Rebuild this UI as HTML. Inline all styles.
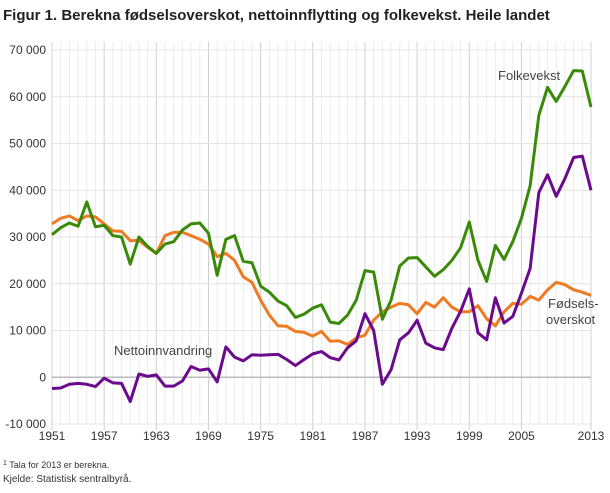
<!DOCTYPE html>
<html><head><meta charset="utf-8"><style>
body{margin:0;background:#fff;font-family:"Liberation Sans",sans-serif;}
</style></head><body>
<svg width="610" height="488" viewBox="0 0 610 488" xmlns="http://www.w3.org/2000/svg">
<text x="3" y="20" font-size="15" font-weight="bold" fill="#222">Figur 1.  Berekna fødselsoverskot, nettoinnflytting og folkevekst. Heile landet</text>
<g id="grid"></g><g id="axes"></g><g id="series"></g>
<text x="498" y="80" font-size="13" fill="#444">Folkevekst</text>
<text x="548" y="308" font-size="13" fill="#444">Fødsels-</text>
<text x="546" y="324" font-size="13" fill="#444">overskot</text>
<text x="114" y="355" font-size="13" fill="#444">Nettoinnvandring</text>
<text x="3" y="468" font-size="9" fill="#333"><tspan font-size="7" dy="-3">1</tspan><tspan dy="3">  Tala for 2013 er berekna.</tspan></text>
<text x="3" y="482" font-size="10" fill="#333">Kjelde: Statistisk sentralbyrå.</text>
</svg>
<script>
const years=[];for(let y=1951;y<=2013;y++)years.push(y);
const yTicks=[-10000,0,10000,20000,30000,40000,50000,60000,70000];
const xTickYears=[1951,1957,1963,1969,1975,1981,1987,1993,1999,2005,2013];
const folkevekst=[30500,32000,33000,32300,37500,32200,32500,30300,30000,24200,30000,28000,26500,28500,29000,31500,32800,33000,30800,21800,29500,30300,24800,24500,19500,18200,16300,15300,12800,13500,14800,15500,11800,11500,13300,16500,22800,22500,12400,16500,23800,25500,25600,23600,21600,23000,25000,27700,33200,25000,20500,28200,25200,29000,34000,41000,56000,62000,59000,62200,65600,65500,57800];
const fodselsoverskot=[32800,34000,34500,33500,34500,34300,32800,31300,31200,29200,29300,27800,26500,30300,31000,31000,30300,29500,28500,25800,26500,25000,21500,20300,16500,13300,11000,10900,9800,9600,8800,9800,7700,7800,7000,8400,9000,12200,14000,15000,15800,15500,13600,16000,15000,17000,15000,14000,14000,15300,12500,11000,14000,15800,15600,17300,16500,18700,20300,19800,18700,18200,17500];
const nettoinnvandring=[-2400,-2300,-1500,-1300,-1500,-2000,-200,-1200,-1300,-5200,700,200,500,-1900,-1900,-800,2300,1500,1800,-1000,6500,4300,3500,4800,4700,4800,4900,3800,2500,3800,5000,5500,4200,3700,6300,7800,13600,10000,-1500,1600,8000,9500,12200,7300,6300,5900,10500,14100,18900,9500,8000,17000,11600,13000,18000,23300,39500,43300,38700,42500,47000,47300,40000];
const X0=52,X1=591,Y0=424,Y1=50;
const xs=y=>X0+(y-1951)/(2013-1951)*(X1-X0);
const ys=v=>Y0-(v+10000)/80000*(Y0-Y1);
const NS="http://www.w3.org/2000/svg";
function mk(t,a,p){const e=document.createElementNS(NS,t);for(const k in a)e.setAttribute(k,a[k]);p.appendChild(e);return e;}
const g=document.getElementById('grid'),ax=document.getElementById('axes'),s=document.getElementById('series');
years.forEach(y=>{const major=xTickYears.includes(y);
const l=mk('line',{x1:xs(y),x2:xs(y),y1:Y1-8,y2:Y0+(major?6:0),stroke:major?'#d0d0d0':'#ececec','stroke-width':1},g);

});
yTicks.forEach(v=>{const l=mk('line',{x1:X0,x2:X1,y1:ys(v),y2:ys(v),stroke:v===0?'#bbb':'#e4e4e4','stroke-width':v===0?1.5:1},g);


const t=mk('text',{x:46,y:ys(v)+4,'text-anchor':'end','font-size':12,fill:'#333'},ax);t.textContent=v.toLocaleString('en').replace(',',' ').replace('-','-');

});
xTickYears.forEach(y=>{const t=mk('text',{x:xs(y),y:440,'text-anchor':'middle','font-size':12,fill:'#333'},ax);t.textContent=y;

});
function line(data,color,name){const p=mk('polyline',{points:data.map((v,i)=>xs(years[i])+','+ys(v)).join(' '),fill:'none',stroke:color,'stroke-width':3,'stroke-linejoin':'round'},s);

}
line(fodselsoverskot,'#f07a22','line-fodselsoverskot');
line(folkevekst,'#3a8a0a','line-folkevekst');
line(nettoinnvandring,'#6a0a8c','line-nettoinnvandring');
</script>
</body></html>
